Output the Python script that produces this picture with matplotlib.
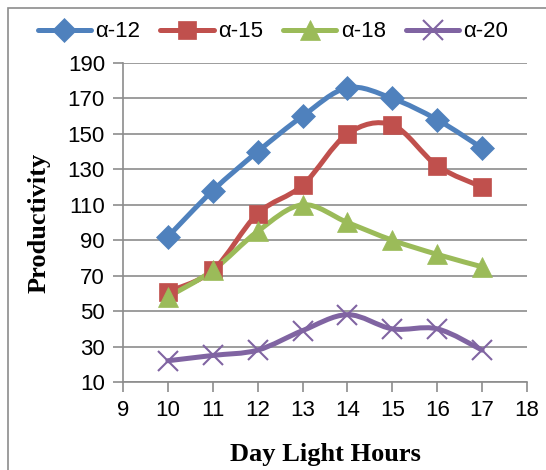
import numpy as np
import matplotlib
matplotlib.use('Agg')
import matplotlib.pyplot as plt
from matplotlib.path import Path
from matplotlib.patches import PathPatch, Rectangle
from matplotlib.lines import Line2D

hours = [10, 11, 12, 13, 14, 15, 16, 17]
a12 = [92, 118, 140, 160, 176, 170, 158, 142]
a15 = [61, 73, 105, 121, 150, 155, 132, 120]
a18 = [58, 73, 95, 110, 100, 90, 82, 75]
a20 = [22, 25, 28, 39, 48, 40, 40, 28]
names = ['α-12', 'α-15', 'α-18', 'α-20']

colors = ['#4F81BD', '#C0504D', '#9BBB59', '#8064A2']
markers = ['D', 's', '^', 'x']
msizes = [12, 13, 14, 14]

tick_font = ['Liberation Sans', 'DejaVu Sans']
label_font = ['Liberation Serif', 'DejaVu Serif']


def smooth_path(x, y):
    # excel-like smoothed line: cubic bezier between neighbouring points
    p = np.column_stack([x, y]).astype(float)
    n = len(p)
    verts = [p[0]]
    codes = [Path.MOVETO]
    for i in range(n - 1):
        p0 = p[i - 1] if i > 0 else p[i]
        p3 = p[i + 2] if i + 2 < n else p[i + 1]
        c1 = p[i] + (p[i + 1] - p0) / 6
        c2 = p[i + 1] - (p3 - p[i]) / 6
        verts += [c1, c2, p[i + 1]]
        codes += [Path.CURVE4] * 3
    return Path(verts, codes)


fig = plt.figure(figsize=(5.46, 4.70), dpi=100)
ax = fig.add_axes([0.2253, 0.1872, 0.7399, 0.6788])

series = [a12, a15, a18, a20]
handles = []
for vals, c, m, ms, nm in zip(series, colors, markers, msizes, names):
    ax.add_patch(PathPatch(smooth_path(hours, vals), fill=False, edgecolor=c,
                           lw=3.6, capstyle='round', joinstyle='round', zorder=3))
    ax.plot(hours, vals, linestyle='none', marker=m, color=c, markersize=ms,
            markeredgewidth=1.5 if m == 'x' else 0.5, zorder=4)
    handles.append(Line2D([], [], color=c, lw=3.6, marker=m, markersize=ms,
                          markeredgewidth=1.5 if m == 'x' else 0.5,
                          solid_capstyle='round'))

ax.set_xlim(9, 18)
ax.set_ylim(10, 190)
ax.set_xticks(range(9, 19))
ax.set_yticks(range(10, 191, 20))
ax.yaxis.grid(True, color='#8c8c8c', lw=1.2)
ax.set_axisbelow(True)
for s in ['top', 'right']:
    ax.spines[s].set_visible(False)
for s in ['left', 'bottom']:
    ax.spines[s].set_color('#8c8c8c')
    ax.spines[s].set_linewidth(1.2)
ax.tick_params(axis='both', direction='out', length=7, width=1.2, color='#8c8c8c',
               labelsize=16, pad=6)
for lbl in ax.get_xticklabels() + ax.get_yticklabels():
    lbl.set_family(tick_font)

ax.set_xlabel('Day Light Hours', family=label_font, fontweight='bold', fontsize=19,
              labelpad=16)
ax.set_ylabel('Productivity', family=label_font, fontweight='bold', fontsize=19,
              labelpad=12)

fig.legend(handles, names, loc='center', bbox_to_anchor=(0.50, 0.932), ncol=4,
           frameon=False, handlelength=2.4, handletextpad=0.2, columnspacing=0.9,
           borderpad=0, prop={'family': tick_font, 'size': 16})

fig.patches.append(Rectangle((8 / 546, -0.1), 1.2, 1 - 8 / 470 + 0.1,
                             transform=fig.transFigure, fill=False,
                             edgecolor='#8c8c8c', lw=1.2))

fig.savefig('out.png', dpi=100)
